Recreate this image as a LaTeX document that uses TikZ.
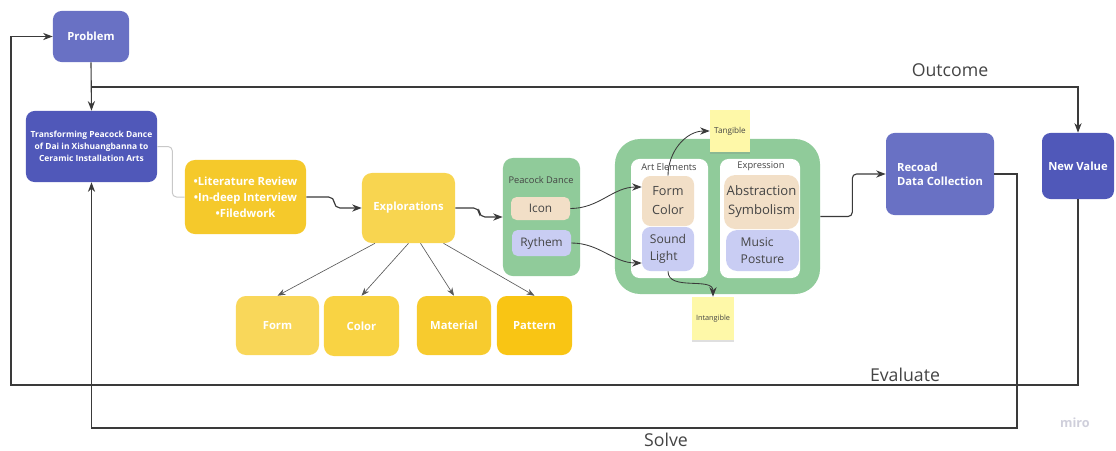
\documentclass[tikz,border=0pt]{standalone}
\usepackage{fontspec}
\setmainfont{Open Sans}
\usepackage{xcolor}
\usetikzlibrary{arrows.meta,calc,shadows}
\definecolor{indlight}{HTML}{6971C4}
\definecolor{inddark}{HTML}{5058B9}
\definecolor{yellit}{HTML}{F5C92B}
\definecolor{yelexp}{HTML}{F8D550}
\definecolor{yelform}{HTML}{F9D75A}
\definecolor{yelcolor}{HTML}{F9D343}
\definecolor{yelmat}{HTML}{F7CB2E}
\definecolor{yelpat}{HTML}{F9C514}
\definecolor{leaf}{HTML}{90CB9A}
\definecolor{beige}{HTML}{F2DFC7}
\definecolor{lav}{HTML}{C9CDF3}
\definecolor{sticky}{HTML}{FEF8A8}
\definecolor{ink}{HTML}{3A3A3A}
\definecolor{soft}{HTML}{C8C8C8}
\definecolor{txt}{HTML}{444444}
\definecolor{mark}{HTML}{CFCFDB}
\tikzset{
  indbox/.style={rounded corners=6pt, align=center, inner sep=2pt, text=white,
                 font=\fontsize{8}{10}\selectfont\bfseries},
  ybox/.style={rounded corners=7pt, align=center, inner sep=2pt, text=white,
               font=\fontsize{8}{11.4}\selectfont\bfseries},
  greenbox/.style={fill=leaf, rounded corners=7pt, inner sep=0pt},
  whitebox/.style={fill=white, rounded corners=6pt, inner sep=0pt},
  tag/.style={rounded corners=4pt, inner sep=1pt, text=txt, align=center,
              font=\fontsize{8.4}{11.5}\selectfont},
  ttl/.style={text=txt, inner sep=0pt, font=\fontsize{6.6}{8}\selectfont},
  stickynote/.style={fill=sticky, inner sep=0pt, text=txt,
                     drop shadow={shadow xshift=0pt, shadow yshift=-1.5pt, opacity=0.25}},
  lbl/.style={text=txt, inner sep=0pt, font=\fontsize{12.6}{14}\selectfont},
  arr/.style={-{Stealth[length=2.4mm,width=1.8mm]}, line width=0.8pt, draw=ink},
  thinarr/.style={-{Stealth[length=2mm,width=1.5mm]}, line width=0.45pt, draw=ink!85},
  softline/.style={line width=0.7pt, draw=soft, rounded corners=3pt}
}
\begin{document}
\begin{tikzpicture}[x=0.025cm,y=0.025cm]
  \useasboundingbox (0,0) rectangle (1116,-450);
  \node[indbox,fill=indlight,minimum width=1.9cm,minimum height=1.275cm] (problem) at (91,-36.5) {Problem};
  \node[indbox,fill=inddark,minimum width=3.275cm,minimum height=1.775cm,
        font=\fontsize{6}{8.6}\selectfont\bfseries] (transform) at (91.5,-146.5)
        {Transforming Peacock Dance\\of Dai in Xishuangbanna to\\Ceramic Installation Arts};
  \node[ybox,fill=yellit,minimum width=3.025cm,minimum height=1.85cm] (litrev) at (245.5,-197)
        {•Literature Review\\•In-deep Interview\\•Filedwork};
  \node[ybox,fill=yelexp,minimum width=2.325cm,minimum height=1.75cm] (explore) at (408.5,-208) {Explorations};
  \node[ybox,fill=yelform,minimum width=2.075cm,minimum height=1.475cm] (form) at (277.5,-325.5) {Form};
  \node[ybox,fill=yelcolor,minimum width=1.875cm,minimum height=1.5cm] (color) at (361.5,-326) {Color};
  \node[ybox,fill=yelmat,minimum width=1.85cm,minimum height=1.475cm] (material) at (454,-325.5) {Material};
  \node[ybox,fill=yelpat,minimum width=1.875cm,minimum height=1.475cm] (pattern) at (534.5,-325.5) {Pattern};

  \node[greenbox,minimum width=1.925cm,minimum height=2.95cm] (peacock) at (541.5,-217) {};
  \node[ttl] (pdtitle) at (541,-180) {Peacock Dance};
  \node[tag,fill=beige,minimum width=1.475cm,minimum height=0.575cm] (icon) at (540.5,-208.5) {Icon};
  \node[tag,fill=lav,minimum width=1.475cm,minimum height=0.65cm] (rythem) at (541.5,-243) {Rythem};

  \node[greenbox,rounded corners=18pt,minimum width=5.125cm,minimum height=3.875cm] (art) at (717.5,-216.5) {};
  \node[whitebox,minimum width=1.925cm,minimum height=2.975cm] (artel) at (669.5,-218.5) {};
  \node[whitebox,minimum width=2cm,minimum height=2.975cm] (expr) at (760,-218.5) {};
  \node[ttl] (arttitle) at (669,-167) {Art Elements};
  \node[ttl] (exprtitle) at (761,-166) {Expression};
  \node[tag,fill=beige,rounded corners=6pt,minimum width=1.3cm,minimum height=1.25cm,
        font=\fontsize{9}{13.5}\selectfont] (formcolor) at (668,-201) {Form\\Color};
  \node[tag,fill=lav,rounded corners=6pt,minimum width=1.3cm,minimum height=1.1cm,align=left,
        font=\fontsize{8.6}{12}\selectfont] (soundlight) at (668,-249) {Sound\\Light};
  \node[tag,fill=beige,rounded corners=8pt,minimum width=1.875cm,minimum height=1.35cm,
        font=\fontsize{9.3}{13.5}\selectfont] (abstr) at (761.5,-202) {Abstraction\\Symbolism};
  \node[tag,fill=lav,rounded corners=8pt,minimum width=1.825cm,minimum height=1.025cm,align=left,
        font=\fontsize{8.6}{12}\selectfont] (music) at (762.5,-250.5) {Music\\Posture};

  \node[stickynote,minimum width=1cm,minimum height=1.05cm,font=\fontsize{5.8}{7}\selectfont] (tangible) at (730,-131) {Tangible};
  \node[stickynote,minimum width=1.05cm,minimum height=1.075cm,font=\fontsize{5.2}{7}\selectfont] (intangible) at (713,-318.5) {Intangible};

  \node[indbox,fill=indlight,align=left,minimum width=2.7cm,minimum height=2.05cm] (recoad) at (940,-174) {Recoad\\Data Collection};
  \node[indbox,fill=inddark,minimum width=1.8cm,minimum height=1.65cm] (newval) at (1078,-166) {New Value};

  \coordinate (outsplit) at (91,-87);
  \coordinate (evalcorner) at (11,-385);
  \coordinate (solvecorner) at (1017,-428);

  \draw[arr] (problem.south) -- (transform.north);
  \draw[arr] (outsplit) -| (newval.north);
  \draw[arr] (newval.south) |- (evalcorner) |- (problem.west);
  \draw[arr] (recoad.east) -| (solvecorner) -| (transform.south);
  \draw[softline] (transform.east) -- ++(15,0) |- (litrev.west);
  \draw[arr,rounded corners=4pt] (litrev.east) -- ++(28,0) |- (explore.west);
  \draw[arr,rounded corners=4pt] (explore.east) -- ++(24,0) |- (peacock.west);
  \draw[thinarr] ($(explore.south)+(-33.5,0)$) -- (form.north);
  \draw[thinarr] (explore.south) -- (color.north);
  \draw[thinarr] ($(explore.south)+(12,0)$) -- (material.north);
  \draw[thinarr] ($(explore.south)+(35,0)$) -- (pattern.north);
  \draw[arr,line width=0.6pt] (icon.east) to[out=0,in=180] ($(formcolor.west)+(0,14)$);
  \draw[arr,line width=0.6pt] (rythem.east) to[out=0,in=180] ($(soundlight.west)+(0,-14)$);
  \draw[arr,line width=0.6pt] (formcolor.north) to[out=90,in=180] (tangible.west);
  \draw[arr,line width=0.6pt] (soundlight.south) to[out=-90,in=90] (intangible.north);
  \draw[arr,rounded corners=3pt] (art.east) -- ++(32,0) |- (recoad.west);

  \node[lbl] (outcome) at (950,-70) {Outcome};
  \node[lbl] (evaluate) at (905,-375) {Evaluate};
  \node[lbl] (solve) at (666,-440) {Solve};
  \node[text=mark,inner sep=0pt,font=\fontsize{9}{10}\selectfont\bfseries] (miro) at (1075,-423) {miro};
\end{tikzpicture}
\end{document}
